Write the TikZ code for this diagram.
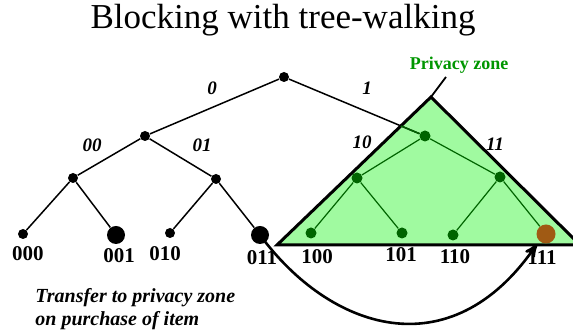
\documentclass[tikz,border=0pt]{standalone}
\usepackage{fontspec}
\setmainfont{Liberation Serif}
\usepackage{xcolor}
\definecolor{zonegreen}{RGB}{160, 250, 160}
\definecolor{leafgreen}{RGB}{0, 100, 0}
\definecolor{zonelabel}{RGB}{0, 150, 0}
\definecolor{itembrown}{RGB}{160, 90, 20}
\usetikzlibrary{arrows}

\begin{document}
\begin{tikzpicture}[> = stealth', x=0.5pt, y=-0.5pt,
		dot/.style={circle, fill, inner sep=0pt, minimum size=5pt},
		bigdot/.style={dot, minimum size=9pt},
		gdot/.style={dot, fill=leafgreen, minimum size=5.5pt},
		branch/.style={line width=0.75pt},
		gbranch/.style={line width=0.6pt, draw=leafgreen},
		leaf/.style={font=\fontsize{10.5}{12}\selectfont\bfseries},
		bit/.style={font=\fontsize{9.5}{11}\selectfont\bfseries\itshape}]
			\useasboundingbox (0,0) rectangle (573,335);
			\node [font=\fontsize{17.5}{20}\selectfont] (title) at (283,20) {Blocking with tree-walking};
			
			% privacy zone
			\begin{scope}
				\clip (0,0) rectangle (573,335);
				\draw [line width=1.5pt, fill=zonegreen] (277,245) coordinate (zl) -- (431,97) coordinate (apex) -- (580,245) -- cycle;
			\end{scope}
			\coordinate (ptr) at (446,77);
			\draw [line width=0.9pt] (apex) -- (ptr);
			\node [font=\fontsize{9}{11}\selectfont\bfseries, text=zonelabel] (zone) at (459,65) {Privacy zone};
			
			\node [dot] (root) at (284,77) {};
			\node [dot] (n0) at (145,136) {};
			\node [dot] (n00) at (73,178) {};
			\node [dot] (n01) at (216,179) {};
			\node [dot] (n000) at (23,234) {};
			\node [bigdot] (n001) at (116,235) {};
			\node [dot] (n010) at (170,233) {};
			\node [bigdot] (n011) at (260,235) {};
			\node [gdot] (n1) at (425,136) {};
			\node [gdot] (n10) at (357,178) {};
			\node [gdot] (n11) at (500,177) {};
			\node [gdot] (n100) at (311,233) {};
			\node [gdot] (n101) at (402,233) {};
			\node [gdot] (n110) at (453,235) {};
			\node [bigdot, fill=itembrown, minimum size=9.5pt] (n111) at (546,234) {};
			
			\draw [branch] (root) -- (n0) (root) -- (n1);
			\draw [branch] (n0) -- (n00) (n0) -- (n01);
			\draw [branch] (n00) -- (n000) (n00) -- (n001);
			\draw [branch] (n01) -- (n010) (n01) -- (n011);
			\begin{scope}
				\clip (zl) -- (apex) -- (580,245) -- cycle;
				\draw [gbranch, line width=0.75pt] (root) -- (n1);
			\end{scope}
			\draw [gbranch] (n1) -- (n10) (n1) -- (n11);
			\draw [gbranch] (n10) -- (n100) (n10) -- (n101);
			\draw [gbranch] (n11) -- (n110) (n11) -- (n111);
			
			\node [bit] (b0) at (212,88) {0};
			\node [bit] (b1) at (367,88) {1};
			\node [bit] (b00) at (92,145) {00};
			\node [bit] (b01) at (202,145) {01};
			\node [bit] (b10) at (362,142) {10};
			\node [bit] (b11) at (495,144) {11};
			
			\node [leaf] (t000) at (28,254) {000};
			\node [leaf] (t001) at (119,256) {001};
			\node [leaf] (t010) at (165,254) {010};
			\node [leaf] (t011) at (262,258) {011};
			\node [leaf] (t100) at (317,257) {100};
			\node [leaf] (t101) at (401,255) {101};
			\node [leaf] (t110) at (455,257) {110};
			\node [leaf] (t111) at (542,258) {111};
			
			\coordinate (tip) at (537,244);
			\draw [->, line width=1.3pt] (n011.center) .. controls (330,330) and (450,370) .. (tip);
			
			\node [align=left, anchor=west, inner sep=0pt, font=\fontsize{10}{11.5}\selectfont\bfseries\itshape] (note) at (35,309) {Transfer to privacy zone\\on purchase of item};
		\end{tikzpicture}
\end{document}
